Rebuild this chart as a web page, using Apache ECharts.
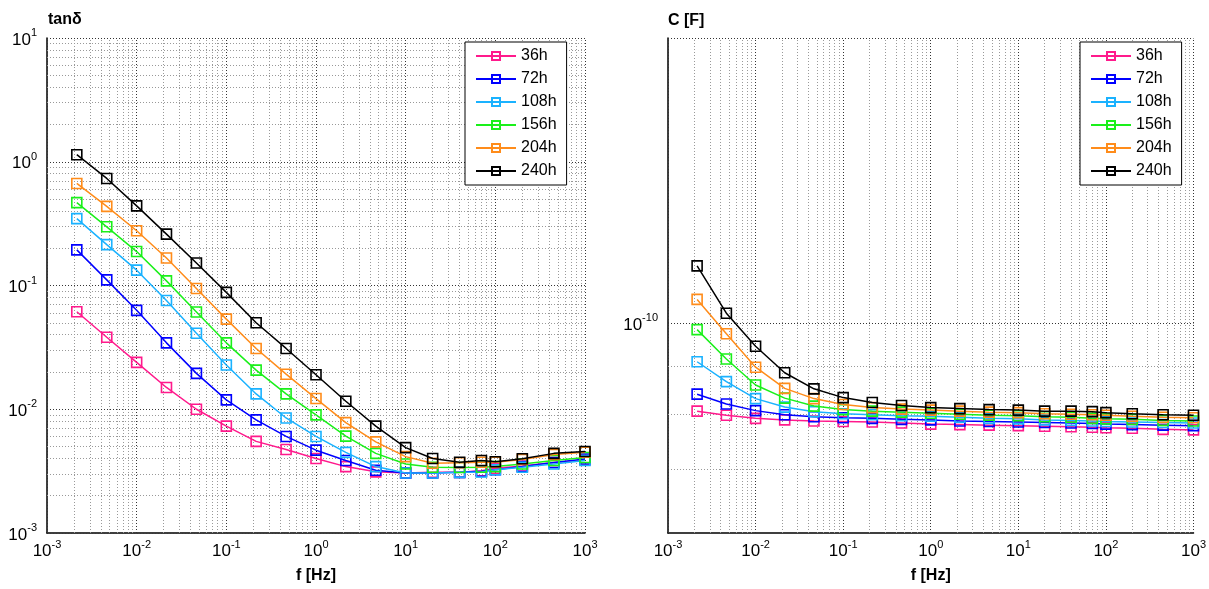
<!DOCTYPE html>
<html><head><meta charset="utf-8">
<script src="https://cdn.jsdelivr.net/npm/echarts@6/dist/echarts.min.js"></script>
<style>html,body{margin:0;padding:0;background:#fff}#c{width:1209px;height:589px}</style>
</head><body><div id="c"></div>
<script>
// ---- data ----
const freqs = [2.15e-3, 4.64e-3, 0.01, 0.0215, 0.0464, 0.1, 0.215, 0.464, 1, 2.15, 4.64, 10, 20, 40, 70, 100, 200, 450, 1000];
const seriesNames = ['36h', '72h', '108h', '156h', '204h', '240h'];
const seriesColors = ['#FF1A8C', '#0000FF', '#1AB2FF', '#1AF01A', '#FF8C1A', '#000000'];

const tan36h  = [0.0614, 0.0382, 0.0239, 0.0150, 0.0100, 0.0073, 0.0055, 0.00473, 0.0040, 0.00344, 0.00312, 0.00305, 0.00309, 0.00309, 0.00318, 0.00334, 0.00348, 0.00371, 0.00389];
const tan72h  = [0.194, 0.111, 0.063, 0.0344, 0.0195, 0.0119, 0.0082, 0.00603, 0.00467, 0.00385, 0.00321, 0.00305, 0.00305, 0.00309, 0.00315, 0.00324, 0.00344, 0.00371, 0.00396];
const tan108h = [0.347, 0.214, 0.133, 0.0757, 0.0411, 0.0228, 0.0133, 0.0085, 0.00603, 0.00448, 0.00344, 0.00305, 0.00305, 0.00309, 0.00311, 0.00324, 0.00340, 0.00361, 0.00385];
const tan156h = [0.467, 0.298, 0.188, 0.109, 0.061, 0.0344, 0.0207, 0.0133, 0.0090, 0.00607, 0.0044, 0.00361, 0.0034, 0.00338, 0.0034, 0.00344, 0.00361, 0.00385, 0.00408];
const tan204h = [0.668, 0.436, 0.277, 0.167, 0.0947, 0.0535, 0.031, 0.0192, 0.0122, 0.0078, 0.00545, 0.00414, 0.00366, 0.0037, 0.00373, 0.00373, 0.00393, 0.00431, 0.0045];
const tan240h = [1.14, 0.733, 0.44, 0.26, 0.152, 0.088, 0.050, 0.031, 0.019, 0.0116, 0.0073, 0.0049, 0.0040, 0.00373, 0.00385, 0.00377, 0.00398, 0.0044, 0.00456];

const cap36h  = [8.07e-11, 7.99e-11, 7.93e-11, 7.90e-11, 7.88e-11, 7.87e-11, 7.86e-11, 7.84e-11, 7.82e-11, 7.81e-11, 7.80e-11, 7.79e-11, 7.78e-11, 7.77e-11, 7.76e-11, 7.75e-11, 7.74e-11, 7.72e-11, 7.71e-11];
const cap72h  = [8.41e-11, 8.21e-11, 8.08e-11, 8.00e-11, 7.96e-11, 7.94e-11, 7.93e-11, 7.91e-11, 7.90e-11, 7.88e-11, 7.87e-11, 7.86e-11, 7.85e-11, 7.84e-11, 7.83e-11, 7.82e-11, 7.81e-11, 7.80e-11, 7.79e-11];
const cap108h = [9.10e-11, 8.67e-11, 8.32e-11, 8.15e-11, 8.06e-11, 8.02e-11, 8.00e-11, 7.98e-11, 7.97e-11, 7.95e-11, 7.93e-11, 7.92e-11, 7.90e-11, 7.89e-11, 7.88e-11, 7.87e-11, 7.86e-11, 7.85e-11, 7.84e-11];
const cap156h = [9.84e-11, 9.16e-11, 8.60e-11, 8.33e-11, 8.17e-11, 8.10e-11, 8.07e-11, 8.05e-11, 8.03e-11, 8.01e-11, 7.99e-11, 7.98e-11, 7.96e-11, 7.95e-11, 7.93e-11, 7.92e-11, 7.91e-11, 7.89e-11, 7.88e-11];
const cap204h = [1.059e-10, 9.74e-11, 8.98e-11, 8.53e-11, 8.32e-11, 8.20e-11, 8.14e-11, 8.11e-11, 8.09e-11, 8.07e-11, 8.05e-11, 8.04e-11, 8.02e-11, 8.01e-11, 8.00e-11, 7.99e-11, 7.97e-11, 7.95e-11, 7.94e-11];
const cap240h = [1.149e-10, 1.024e-10, 9.45e-11, 8.86e-11, 8.52e-11, 8.34e-11, 8.24e-11, 8.18e-11, 8.14e-11, 8.12e-11, 8.10e-11, 8.09e-11, 8.07e-11, 8.07e-11, 8.06e-11, 8.04e-11, 8.02e-11, 8.00e-11, 7.99e-11];

const tanSeries = [tan36h, tan72h, tan108h, tan156h, tan204h, tan240h];
const capSeries = [cap36h, cap72h, cap108h, cap156h, cap204h, cap240h];

// axis ranges and gridline positions
const xRange = [1e-3, 1e3];
const tanRange = [1e-3, 10];
const capRange = [6e-11, 2e-10];
const xMajor = [1e-3, 1e-2, 1e-1, 1, 10, 100, 1000];
const tanMajor = [1e-3, 1e-2, 1e-1, 1, 10];
const capMajor = [1e-10, 2e-10];
const capMinor = [7e-11, 8e-11, 9e-11];
function minorsOf(majors) {
  const out = [];
  for (let i = 0; i < majors.length - 1; i++) for (let m = 2; m <= 9; m++) out.push(+(m * majors[i]).toPrecision(3));
  return out;
}
const xMinor = minorsOf(xMajor);
const tanMinor = minorsOf(tanMajor);

const FONT = 'Liberation Sans, Arial, sans-serif';

function powLabel(v) {
  const l = Math.log10(v), e = Math.round(l);
  if (Math.abs(l - e) > 1e-6) return '';
  return '{b|10}{s|' + e + '}';
}
const richTxt = {
  b: { fontSize: 17, fontFamily: FONT, color: '#000', verticalAlign: 'bottom' },
  s: { fontSize: 11, fontFamily: FONT, color: '#000', verticalAlign: 'bottom', padding: [0, 0, 10, 0] }
};

function xAxisDef(gi) {
  return {
    type: 'log', gridIndex: gi, min: xRange[0], max: xRange[1], logBase: 10,
    name: 'f [Hz]', nameLocation: 'middle', nameGap: 35,
    nameTextStyle: { fontSize: 16, fontWeight: 'bold', fontFamily: FONT, color: '#000' },
    axisLine: { show: true, lineStyle: { color: '#000', width: 1.5 } },
    axisTick: { show: false }, splitLine: { show: false }, minorTick: { show: false },
    axisLabel: { formatter: powLabel, rich: richTxt, margin: 6, showMinLabel: true, showMaxLabel: true, hideOverlap: false }
  };
}
function yAxisDef(gi, range) {
  return {
    type: 'log', gridIndex: gi, min: range[0], max: range[1], logBase: 10,
    axisLine: { show: true, lineStyle: { color: '#000', width: 1.5 } },
    axisTick: { show: false }, splitLine: { show: false }, minorTick: { show: false },
    axisLabel: { formatter: powLabel, rich: richTxt, margin: 10, showMinLabel: true, showMaxLabel: true, hideOverlap: false }
  };
}

function gridLines(gi, xs, ys, yRange, style) {
  const d = [];
  xs.forEach(v => d.push({ coords: [[v, yRange[0]], [v, yRange[1]]] }));
  ys.forEach(v => d.push({ coords: [[xRange[0], v], [xRange[1], v]] }));
  return {
    type: 'lines', coordinateSystem: 'cartesian2d', xAxisIndex: gi, yAxisIndex: gi,
    silent: true, z: 1, polyline: false, animation: false,
    lineStyle: Object.assign({ opacity: 1, curveness: 0 }, style),
    data: d
  };
}
const MAJ = { color: '#333', type: [1, 2], width: 1 };
const MIN = { color: '#999', type: [1, 2], width: 1 };

const series = [
  gridLines(0, xMinor, tanMinor, tanRange, MIN),
  gridLines(0, xMajor, tanMajor, tanRange, MAJ),
  gridLines(1, xMinor, capMinor, capRange, MIN),
  gridLines(1, xMajor, capMajor, capRange, MAJ)
];
function addData(gi, arrs) {
  arrs.forEach((vals, i) => {
    series.push({
      type: 'line', name: seriesNames[i], xAxisIndex: gi, yAxisIndex: gi, z: 3 + i,
      data: freqs.map((f, k) => [f, vals[k]]),
      symbol: 'rect', symbolSize: 10, showSymbol: true,
      lineStyle: { color: seriesColors[i], width: 1.5 },
      itemStyle: { color: 'rgba(255,255,255,0)', borderColor: seriesColors[i], borderWidth: 1.6 },
      emphasis: { disabled: true }
    });
  });
}
addData(0, tanSeries);
addData(1, capSeries);

function legendDef(left) {
  return {
    data: seriesNames, orient: 'vertical', left: left, top: 42,
    backgroundColor: '#fff', borderColor: '#000', borderWidth: 1, borderRadius: 0,
    padding: [5, 10, 5, 10], itemWidth: 40, itemHeight: 10, itemGap: 5,
    textStyle: { fontSize: 16, fontFamily: FONT, color: '#000', lineHeight: 18 },
    selectedMode: false
  };
}

const chart = echarts.init(document.getElementById('c'), null, { renderer: 'canvas' });
chart.setOption({
  animation: false,
  backgroundColor: '#fff',
  textStyle: { fontFamily: FONT },
  title: [
    { text: 'tanδ', left: 48, top: 12, padding: 0, textStyle: { fontSize: 16, fontWeight: 'bold', fontFamily: FONT, color: '#000' } },
    { text: 'C [F]', left: 668, top: 13, padding: 0, textStyle: { fontSize: 16, fontWeight: 'bold', fontFamily: FONT, color: '#000' } }
  ],
  legend: [legendDef(465), legendDef(1080)],
  grid: [
    { left: 47, top: 38, width: 538, height: 512 },
    { left: 668, top: 38, width: 531, height: 512 }
  ],
  xAxis: [xAxisDef(0), xAxisDef(1)],
  yAxis: [yAxisDef(0, tanRange), yAxisDef(1, capRange)],
  tooltip: { show: false },
  series: series
});
</script></body></html>
